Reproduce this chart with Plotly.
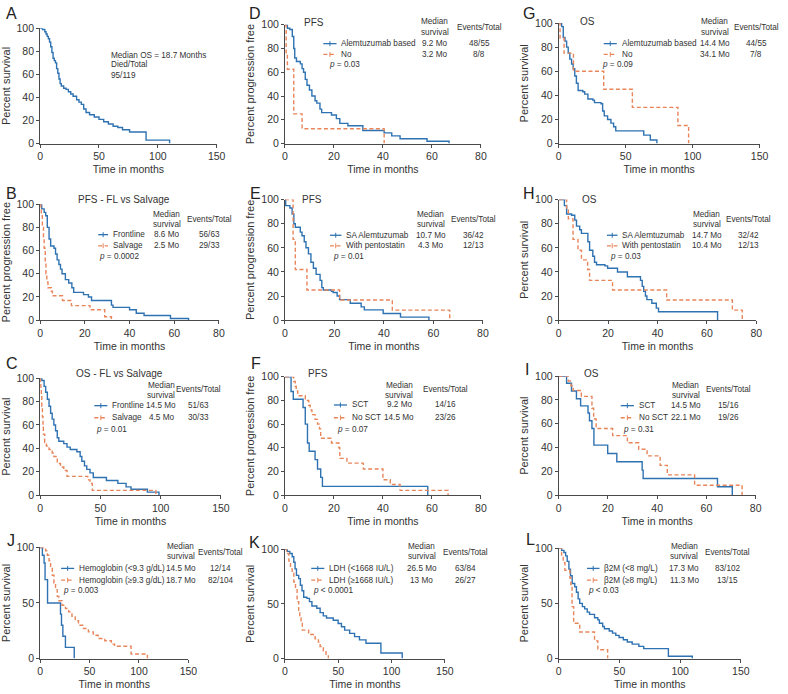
import plotly.graph_objects as go

# ---- data (time in months, % surviving) ----
a_all_t = [0, 2, 4, 5, 6, 7, 8, 9, 10, 11, 12, 13, 14, 15, 16, 17, 18, 20, 22, 24, 26, 28, 31, 33, 35, 37, 39, 42, 46, 50, 54, 58, 62, 66, 70, 76, 90, 110]
a_all_s = [100, 99, 97, 95, 93, 91, 88, 84, 79, 74, 72, 70, 65, 61, 56, 52, 50, 48, 47, 45, 43, 41, 38, 36, 34, 30, 27, 25, 23, 21, 19, 17, 15, 14, 12, 10, 3, 0]

d_alem_t = [0, 1, 2, 3, 3.6, 4, 4.7, 6.3, 7, 7.6, 8.3, 9, 10, 11, 12.3, 13, 14.3, 15, 19, 21, 22.4, 25.7, 31.8, 40.5, 43.6, 47, 58, 67]
d_alem_s = [100, 97, 96, 90, 80, 72, 69, 67, 63, 60, 54, 49, 45, 40, 36, 34, 29, 26, 24, 21, 17, 15, 11, 9, 6.5, 4, 2, 0]
d_no_t = [0, 0.5, 1, 3.6, 7, 40.5]
d_no_s = [100, 75, 62.5, 25, 12.5, 0]

g_alem_t = [0, 2.2, 3.4, 4.7, 5.9, 7.1, 8.3, 9.6, 10.8, 12, 13.2, 14.5, 18, 19.4, 21.8, 25.5, 26.7, 31.6, 32.8, 34, 36.5, 39, 41, 42.6, 63.5, 68.4, 73.3]
g_alem_s = [100, 97, 88, 85, 80, 75, 70, 66, 62, 56, 50, 44, 43, 41, 37, 36, 34, 33, 27, 23, 20, 17, 14, 10.5, 7, 3, 0]
g_no_t = [0, 1, 4, 11, 33.6, 55, 89, 97]
g_no_s = [100, 87.5, 75, 60, 45, 30, 15, 0]

b_front_t = [0, 0.7, 1.8, 2.5, 3.2, 4, 4.7, 6.2, 6.9, 7.6, 8.4, 9.1, 9.8, 11.3, 12.8, 14.2, 15, 19.4, 21.6, 23, 31.9, 32.6, 40, 43, 46.5, 58.3, 66.4]
b_front_s = [100, 96, 93, 90, 80, 70, 64, 62, 57, 52, 48, 44, 40, 35, 32, 28, 24, 22, 20, 17, 13, 11, 9, 6, 4, 1.5, 0]
b_salv_t = [0, 0.3, 0.5, 1, 1.5, 1.8, 2.3, 2.6, 3, 3.5, 5, 5.5, 10, 14, 22.3, 28.9, 31.9]
b_salv_s = [100, 97, 90, 80, 70, 62, 50, 40, 33, 28, 25, 21, 17, 12.5, 9, 3, 0]

e_sa_t = [0, 0.3, 2, 2.9, 3.6, 4.2, 6.2, 6.9, 7.8, 8.5, 9.5, 10.5, 11.5, 12.6, 14.2, 14.9, 15.5, 18.8, 19.5, 21.1, 22.1, 26.4, 30.8, 32.1, 39.7, 46.7, 58.2]
e_sa_s = [100, 95, 93, 88, 80, 77, 73, 70, 65, 60, 55, 48, 43, 38, 33, 27, 25, 24, 23, 20, 17, 14, 11, 8.5, 5.5, 2.5, 0]
e_pento_t = [0, 3.3, 4.2, 8.9, 22.1, 43.4, 66.6]
e_pento_s = [100, 67, 42, 25, 16.7, 8.3, 0]

h_sa_t = [0, 2.3, 3.2, 5.2, 6.5, 7.2, 8.5, 9.2, 11.8, 12.5, 13.8, 14.5, 15.3, 18.7, 19.8, 23.8, 27.8, 33.1, 33.8, 34.4, 35.1, 35.7, 37.7, 39.5, 40.4, 64.3]
h_sa_s = [100, 95, 88, 87, 83, 78, 75, 72, 65, 58, 53, 48, 46, 45, 43, 40, 36, 33, 28, 24, 20, 17, 14, 10, 7, 0]
h_pento_t = [0, 3.2, 3.9, 5.8, 7.8, 9.2, 11.7, 12.5, 21.8, 43.7, 70.3, 74.3]
h_pento_s = [100, 92, 84, 67, 58, 50, 42, 33, 25, 16.7, 8.3, 0]

c_front_t = [0, 1.4, 3.3, 4.6, 6, 7.4, 8.7, 10, 11.4, 12.8, 14.2, 15.5, 19.6, 22.3, 25, 30.5, 33.2, 34.6, 36.8, 38.7, 41.4, 44.1, 55, 64.5, 71.3, 75.4, 89, 98.6]
c_front_s = [100, 98, 93, 88, 82, 76, 70, 65, 60, 55, 49, 46, 44, 41, 39, 37, 33, 29, 25, 22, 19, 15, 12.5, 10, 7, 5, 2.5, 0]
c_salv_t = [0, 0.3, 0.6, 1, 1.4, 1.9, 2.4, 2.7, 3.8, 5.2, 7.4, 10, 11.4, 14.2, 16.9, 19.6, 22.3, 39.5, 41.4, 43.3, 96]
c_salv_s = [100, 97, 91, 85, 76, 67, 58, 52, 45, 42, 39, 36, 33, 27, 24, 21, 16, 13, 10, 4, 0]

f_sct_t = [0, 2.5, 3.4, 7.4, 8.3, 9.2, 9.9, 12.3, 13.3, 14.6, 15.3, 58.3]
f_sct_s = [100, 87.5, 81, 74, 60, 44, 37, 30, 22, 15, 7.4, 0]
f_nosct_t = [0, 3.6, 4.2, 4.6, 5.2, 8.3, 9.7, 10.3, 11, 12.3, 13.3, 14.1, 14.6, 19, 22, 22.4, 25.3, 32, 40, 43, 47, 66.6]
f_nosct_s = [100, 96, 92, 88, 84, 80, 76, 72, 68, 64, 60, 56, 48, 44, 40, 31, 27, 22, 13, 9, 4, 0]

i_sct_t = [0, 3.2, 5.2, 7.2, 8.9, 11.9, 12.5, 13.5, 14.3, 19.9, 23.6, 33.9, 34.3, 64.5, 70.5]
i_sct_s = [100, 94, 87.5, 81, 75, 69, 62.5, 56, 42, 35, 28, 21, 14, 7, 0]
i_nosct_t = [0, 3.9, 5, 5.9, 9.2, 13.5, 14.2, 15.2, 21.9, 27.9, 32.5, 35.9, 41.2, 44.1, 55.2, 74.5]
i_nosct_s = [100, 96, 92, 88, 83, 73, 64, 56, 50, 44, 38.5, 33, 25, 17, 8.3, 0]

j_low_t = [0, 2.3, 4, 5, 7.5, 20.6, 21.6, 23, 25.6, 34.5]
j_low_s = [100, 93, 86, 71, 50, 40, 30, 20, 10, 0]
j_high_t = [0, 5.6, 7.3, 9, 10.6, 12.3, 14, 15.6, 17.3, 18.9, 22.2, 25.6, 28.9, 32.2, 35.5, 38.8, 43.8, 48.8, 53.8, 58.7, 65.4, 72, 75.3, 92, 108.5]
j_high_s = [100, 97, 93, 88, 82, 75, 68, 62, 56, 52, 48, 45, 42, 38, 34, 30, 27, 24, 21, 18, 16, 13, 11, 4, 0]

k_low_t = [0, 2.2, 4.6, 6.8, 8.3, 9.5, 10.8, 12.9, 14.5, 16, 17.6, 20.6, 23, 25.3, 29.9, 33, 36, 39, 45.3, 49.9, 53, 56, 60.7, 65.3, 69.9, 76, 90, 110]
k_low_s = [100, 98, 96, 93, 88, 82, 76, 73, 67, 62, 56, 55, 52, 48, 46, 42, 39, 37, 35, 32, 29, 26, 23, 20, 17, 14, 5, 0]
k_high_t = [0, 1.5, 3.7, 5.2, 6.8, 8.3, 9.9, 11.4, 12.9, 13.9, 15.1, 16.3, 22.2, 28.3, 31.4, 33, 36, 38.5, 40.7]
k_high_s = [100, 96, 89, 82, 78, 70, 63, 52, 44, 37, 33, 26, 22, 18, 15, 11, 7, 4, 0]

l_low_t = [0, 2.4, 4.3, 5.7, 7, 8.4, 9.7, 11.1, 13.2, 14.6, 16, 17.3, 19.5, 21.4, 23.5, 25.4, 29.5, 32.2, 33.5, 36.2, 37.6, 41.6, 44.3, 47, 49.7, 53.2, 56.5, 60.5, 66, 70, 90.3, 110]
l_low_s = [100, 98, 96, 93, 88, 81, 75, 68, 65, 60, 54, 50, 47, 45, 42, 40, 37, 35, 32, 29, 27, 25, 23, 21, 19, 17, 15, 13, 11, 9, 2, 0]
l_high_t = [0, 2.4, 3.7, 5.1, 9.2, 10, 11, 12.3, 17.3, 29.5, 32.2, 40.3]
l_high_s = [100, 93, 87, 80, 73, 67, 47, 32, 24, 16, 8, 0]

# ---- page geometry ----
W, H = 788, 694
BLUE = "#2f72b2"
ORANGE = "#e8855a"
FONT = "Liberation Sans, Arial, sans-serif"
TXT = "#333333"
SMALL = 8.2


def fx(p):
    return p / W


def fy(p):
    return 1 - p / H


OS = "Percent survival"
PFS = "Percent progression free"
T5 = [0, 20, 40, 60, 80]
T6 = [0, 50, 100, 150]

# letter, letter pos, plot box (x0, y0, x1, y1 px), xmax, xticks, ytick step, ytitle, series
panels = [
    ("A", (1, 8), (37.7, 22.7, 217, 140), 150, T6, 20, OS, [(a_all_t, a_all_s, BLUE)]),
    ("D", (248, 8), (286.3, 19, 485.3, 140), 80, T5, 20, PFS,
     [(d_alem_t, d_alem_s, BLUE), (d_no_t, d_no_s, ORANGE)]),
    ("G", (526, 8), (564.3, 17.3, 768.3, 140), 150, T6, 20, OS,
     [(g_alem_t, g_alem_s, BLUE), (g_no_t, g_no_s, ORANGE)]),
    ("B", (1, 191), (37.7, 201.7, 219.3, 319.7), 80, T5, 20, PFS,
     [(b_front_t, b_front_s, BLUE), (b_salv_t, b_salv_s, ORANGE)]),
    ("E", (249, 191), (286.3, 197, 487.3, 319.7), 80, T5, 20, PFS,
     [(e_sa_t, e_sa_s, BLUE), (e_pento_t, e_pento_s, ORANGE)]),
    ("H", (526, 191), (564.3, 197, 765, 319.7), 80, T5, 20, OS,
     [(h_sa_t, h_sa_s, BLUE), (h_pento_t, h_pento_s, ORANGE)]),
    ("C", (1, 364), (37.7, 378.7, 221.3, 497.7), 150, T6, 20, OS,
     [(c_front_t, c_front_s, BLUE), (c_salv_t, c_salv_s, ORANGE)]),
    ("F", (250, 364), (286.3, 377.3, 485.3, 497.7), 80, T5, 20, PFS,
     [(f_sct_t, f_sct_s, BLUE), (f_nosct_t, f_nosct_s, ORANGE)]),
    ("I", (528, 370), (564.3, 376.7, 764.3, 497.7), 80, T5, 20, OS,
     [(i_sct_t, i_sct_s, BLUE), (i_nosct_t, i_nosct_s, ORANGE)]),
    ("J", (2, 544), (37.7, 551, 188.3, 664), 150, T6, 50, OS,
     [(j_low_t, j_low_s, BLUE), (j_high_t, j_high_s, ORANGE)]),
    ("K", (248, 546), (286.3, 552.7, 448.7, 664), 150, T6, 50, OS,
     [(k_low_t, k_low_s, BLUE), (k_high_t, k_high_s, ORANGE)]),
    ("L", (529, 543), (564.3, 551.7, 749.3, 664), 150, T6, 50, OS,
     [(l_low_t, l_low_s, BLUE), (l_high_t, l_high_s, ORANGE)]),
]

fig = go.Figure()
annotations = []
shapes = []


def text(x, y, s, size=SMALL, anchor="left"):
    annotations.append(dict(x=fx(x), y=fy(y), xref="paper", yref="paper", text=s,
                            showarrow=False, xanchor=anchor, yanchor="middle",
                            font=dict(family=FONT, size=size, color=TXT)))


def legend_line(x0, x1, y, color):
    dash = "solid" if color == BLUE else "4px,2.5px"
    shapes.append(dict(type="line", xref="paper", yref="paper", x0=fx(x0), x1=fx(x1),
                       y0=fy(y), y1=fy(y), line=dict(color=color, width=1.3, dash=dash)))
    xm = (x0 + x1) / 2
    shapes.append(dict(type="line", xref="paper", yref="paper", x0=fx(xm), x1=fx(xm),
                       y0=fy(y - 2.5), y1=fy(y + 2.5), line=dict(color=color, width=1)))


for i, (letter, lpos, box, xmax, xt, ystep, ytitle, series) in enumerate(panels, start=1):
    x0, y0, x1, y1 = box
    sfx = "" if i == 1 else str(i)
    for t, s, col in series:
        fig.add_trace(go.Scatter(
            x=t, y=s, mode="lines", xaxis="x" + sfx, yaxis="y" + sfx, showlegend=False,
            line=dict(color=col, width=1.4, shape="hv",
                      dash="solid" if col == BLUE else "4px,2.5px"),
            hoverinfo="skip"))
    axis_common = dict(showline=True, linecolor="#4a4a4a", linewidth=1, ticks="outside",
                       ticklen=3, tickcolor="#4a4a4a", showgrid=False, zeroline=False,
                       tickfont=dict(family=FONT, size=10.5, color=TXT))
    fig.layout["xaxis" + sfx] = dict(
        domain=[fx(x0), fx(x1)], range=[0, xmax], tickvals=xt, anchor="y" + sfx,
        title=dict(text="Time in months", font=dict(family=FONT, size=10.5, color=TXT),
                   standoff=4),
        **axis_common)
    fig.layout["yaxis" + sfx] = dict(
        domain=[fy(y1), fy(y0)], range=[0, 100], tickvals=list(range(0, 101, ystep)),
        anchor="x" + sfx,
        title=dict(text=ytitle, font=dict(family=FONT, size=11, color=TXT), standoff=4),
        **axis_common)
    annotations.append(dict(x=fx(lpos[0]), y=fy(lpos[1]), xref="paper", yref="paper",
                            text=letter, showarrow=False, xanchor="left", yanchor="middle",
                            font=dict(family=FONT, size=16, color="#222")))

# ---- panel text ----
text(108, 50, "Median OS = 18.7 Months")
text(108, 60, "Died/Total")
text(108, 71, "95/119")


def block(title, tpos, tanchor, med_x, ev_x, my, ey, lx0, lx1, ly1, ly2, labels, meds, evs, ppos, ptext):
    if title:
        text(tpos[0], tpos[1], title, size=10, anchor=tanchor)
    text(med_x, my, "Median", anchor="center")
    text(med_x, my + 10.5, "survival", anchor="center")
    text(ev_x, ey, "Events/Total", anchor="center")
    for ly, col, lab, m, e in zip((ly1, ly2), (BLUE, ORANGE), labels, meds, evs):
        legend_line(lx0, lx1, ly, col)
        text(lx1 + 3, ly, lab)
        text(med_x, ly, m, anchor="center")
        text(ev_x, ly, e, anchor="center")
    text(ppos[0], ppos[1], ptext)


block("PFS", (303.7, 16.5), "left", 438.3, 483.5, 16, 22, 325.3, 338.7, 38.3, 49.3,
      ["Alemtuzumab based", "No"], ["9.2 Mo", "3.2 Mo"], ["48/55", "8/8"],
      (328.7, 60), "<i>p</i> = 0.03")
block("OS", (584, 15.7), "left", 722.7, 764.8, 16, 22.3, 610, 623.3, 38.3, 49.3,
      ["Alemtuzumab based", "No"], ["14.4 Mo", "34.1 Mo"], ["44/55", "7/8"],
      (606.3, 60), "<i>p</i> = 0.09")
block("PFS - FL vs Salvage", (122.7, 196.7), "center", 166.5, 210, 211.7, 217.3, 96.7, 106.7,
      232.7, 244, ["Frontline", "Salvage"], ["8.6 Mo", "2.5 Mo"], ["56/63", "29/33"],
      (95, 255), "<i>p</i> = 0.0002")
block("PFS", (302, 196.7), "left", 434.5, 478, 211.7, 217.3, 332, 343.7, 233.3, 244,
      ["SA Alemtuzumab", "With pentostatin"], ["10.7 Mo", "4.3 Mo"], ["36/42", "12/13"],
      (332.7, 255), "<i>p</i> = 0.01")
block("OS", (585.7, 196.7), "left", 714.5, 757.5, 211.7, 217.3, 613.3, 624, 233.3, 244,
      ["SA Alemtuzumab", "With pentostatin"], ["14.7 Mo", "10.4 Mo"], ["32/42", "12/13"],
      (614, 255), "<i>p</i> = 0.03")
block("OS - FL vs Salvage", (118.8, 374.3), "center", 160.5, 199, 385.7, 390, 92.7, 106, 406.7, 419,
      ["Frontline", "Salvage"], ["14.5 Mo", "4.5 Mo"], ["51/63", "30/33"],
      (92.7, 431), "<i>p</i> = 0.01")
block("PFS", (308, 374.3), "left", 402.5, 449.3, 385.7, 390, 336, 349.3, 406, 419,
      ["SCT", "No SCT"], ["9.2 Mo", "14.5 Mo"], ["14/16", "23/26"],
      (337, 431), "<i>p</i> = 0.07")
block("OS", (588.3, 374.3), "left", 693.5, 737, 385.7, 390, 627.3, 640.7, 406.7, 419,
      ["SCT", "No SCT"], ["14.5 Mo", "22.1 Mo"], ["15/16", "19/26"],
      (628, 431), "<i>p</i> = 0.31")
block(None, None, None, 180.5, 221.3, 550, 555.7, 59, 72.3, 572.3, 584.3,
      ["Hemoglobin (&lt;9.3 g/dL)", "Hemoglobin (≥9.3 g/dL)"], ["14.5 Mo", "18.7 Mo"],
      ["12/14", "82/104"], (59.3, 595), "<i>p</i> = 0.003")
block(None, None, None, 425.3, 470, 550, 555.7, 313, 326.3, 572.3, 584.3,
      ["LDH (&lt;1668 IU/L)", "LDH (≥1668 IU/L)"], ["26.5 Mo", "13 Mo"], ["63/84", "26/27"],
      (313, 595), "<i>p</i> &lt; 0.0001")
block(None, None, None, 692, 736, 550, 555.7, 593, 605.7, 572.3, 584.3,
      ["β2M (&lt;8 mg/L)", "β2M (≥8 mg/L)"], ["17.3 Mo", "11.3 Mo"], ["83/102", "13/15"],
      (592.3, 595), "<i>p</i> &lt; 0.03")

fig.update_layout(width=W, height=H, margin=dict(l=0, r=0, t=0, b=0),
                  plot_bgcolor="white", paper_bgcolor="white",
                  annotations=annotations, shapes=shapes,
                  font=dict(family=FONT, color=TXT))

# the page body has a default 8px margin; remove it so the figure sits at the window corner
fig.write_html("out.html", config={"displayModeBar": False},
               post_script="document.body.style.margin='0';")
